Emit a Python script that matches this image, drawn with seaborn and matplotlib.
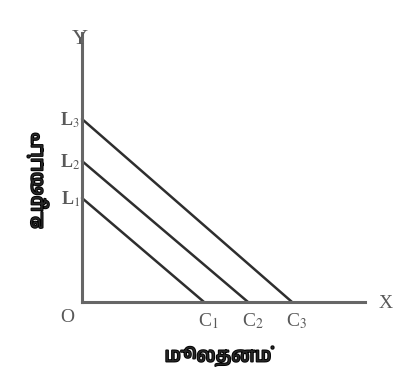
import numpy as np
import pandas as pd
import matplotlib
matplotlib.use('Agg')
import matplotlib.pyplot as plt
import matplotlib.patheffects as pe
from matplotlib import font_manager
import seaborn as sns

sns.set_style('white')
plt.rcParams['mathtext.fontset'] = 'stix'

# isocost lines: intercepts on labour (Y) and capital (X) axes
line_names = ['1', '2', '3']
labour_cut = [104, 141, 183]    # L1, L2, L3
capital_cut = [122, 166, 210]   # C1, C2, C3
x_axis_len = 283
y_axis_len = 269

x_title = 'மூலதனம்'
y_title = 'உழைப்பு'

# look for a font with Tamil glyphs, else fall back
tamil = [f.name for f in font_manager.fontManager.ttflist if 'Tamil' in f.name]
tamil_family = [tamil[0], 'DejaVu Sans'] if tamil else ['DejaVu Sans']

rows = []
for n, l, c in zip(line_names, labour_cut, capital_cut):
    rows.append({'line': n, 'capital': 0, 'labour': l})
    rows.append({'line': n, 'capital': c, 'labour': 0})
df = pd.DataFrame(rows)

fig = plt.figure(figsize=(4.11, 3.69), dpi=100)
ax = fig.add_axes([0, 0, 1, 1])

sns.lineplot(data=df, x='capital', y='labour', hue='line', units='line', estimator=None,
             palette=['#2e2e2e'] * 3, linewidth=1.8, legend=False, ax=ax)

ax.set_xlim(-82, 329)
ax.set_ylim(-67, 302)

for s in ['top', 'right']:
    ax.spines[s].set_visible(False)
ax.spines['left'].set_position(('data', 0))
ax.spines['bottom'].set_position(('data', 0))
ax.spines['left'].set_bounds(0, y_axis_len)
ax.spines['bottom'].set_bounds(0, x_axis_len)
for s in ['left', 'bottom']:
    ax.spines[s].set_color('#666666')
    ax.spines[s].set_linewidth(2.2)
ax.set_xticks([])
ax.set_yticks([])
ax.set_xlabel('')
ax.set_ylabel('')

grey = '#595959'
serif = 'Liberation Serif'
for n, l in zip(line_names, labour_cut):
    ax.text(-2, l - 1, r'L$_{%s}$' % n, family=serif, fontsize=13, fontweight='bold',
            color=grey, ha='right', va='center')
for n, c in zip(line_names, capital_cut):
    ax.text(c - 6, -19, r'C$_{%s}$' % n, family=serif, fontsize=14, color=grey,
            ha='left', va='center')
ax.text(-15, -16, 'O', family=serif, fontsize=14, color=grey, ha='center', va='center')
ax.text(304, -1, 'X', family=serif, fontsize=14, color=grey, ha='center', va='center')
ax.text(-2, 262, 'Y', family=serif, fontsize=16, color=grey, ha='center', va='center')

bold = [pe.withStroke(linewidth=1.3, foreground='black')]
ax.text(136, -54, x_title, family=tamil_family, fontsize=14, fontweight='bold',
        ha='center', va='center', path_effects=bold)
ax.text(-44, 121, y_title, family=tamil_family, fontsize=14, fontweight='bold',
        rotation=90, ha='center', va='center', path_effects=bold)

fig.savefig('out.png', dpi=100)
